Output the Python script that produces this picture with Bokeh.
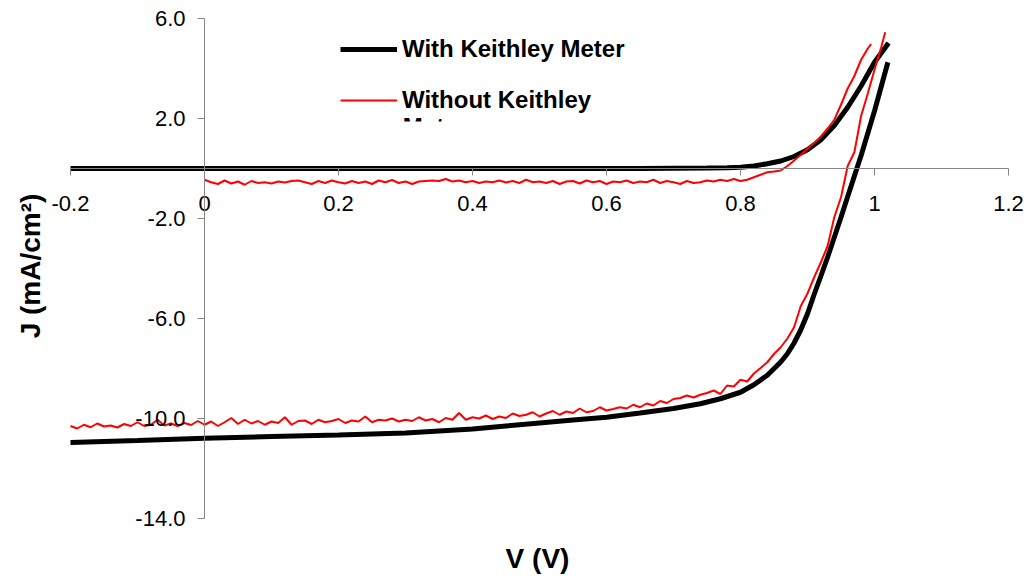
from bokeh.plotting import figure
from bokeh.models import Range1d, FixedTicker, Legend, LegendItem, Label, BoxAnnotation
from bokeh.embed import file_html
from bokeh.resources import INLINE

# ---- axes ----
x_ticks = [-0.2, 0.0, 0.2, 0.4, 0.6, 0.8, 1.0, 1.2]
x_tick_labels = ["-0.2", "0", "0.2", "0.4", "0.6", "0.8", "1", "1.2"]
y_ticks = [-14.0, -10.0, -6.0, -2.0, 2.0, 6.0]
y_tick_labels = ["-14.0", "-10.0", "-6.0", "-2.0", "2.0", "6.0"]

series_names = ["With Keithley Meter", "Without Keithley", "Meter"]

# ---- With Keithley Meter (smooth) : dark and illuminated ----
with_dark_v = [-0.20, 0.00, 0.20, 0.40, 0.50, 0.60, 0.65, 0.70, 0.75, 0.78, 0.80,
               0.82, 0.84, 0.86, 0.88, 0.90, 0.92, 0.94, 0.96, 0.98, 1.00, 1.021]
with_dark_j = [0.00, 0.00, 0.00, 0.00, 0.00, 0.00, 0.00, 0.01, 0.02, 0.03, 0.05,
               0.10, 0.19, 0.30, 0.48, 0.75, 1.15, 1.72, 2.45, 3.30, 4.25, 5.02]

with_light_v = [-0.20, -0.10, 0.00, 0.10, 0.20, 0.30, 0.40, 0.45, 0.50, 0.55, 0.60,
                0.65, 0.70, 0.74, 0.77, 0.80, 0.82, 0.84, 0.86, 0.87, 0.88, 0.89,
                0.90, 0.91, 0.92, 0.93, 0.94, 0.95, 0.96, 0.97, 0.98, 1.00, 1.02]
with_light_j = [-10.96, -10.88, -10.79, -10.72, -10.66, -10.58, -10.42, -10.30, -10.18, -10.06, -9.95,
                -9.78, -9.60, -9.41, -9.21, -8.95, -8.65, -8.27, -7.74, -7.41, -6.98, -6.45,
                -5.81, -5.03, -4.30, -3.55, -2.75, -1.95, -1.12, -0.30, 0.52, 2.30, 4.25]

# ---- Without Keithley Meter (noisy) : dark and illuminated ----
without_dark_v = [0.00, 0.01, 0.02, 0.03, 0.04, 0.05, 0.06, 0.07, 0.08, 0.09,
                  0.10, 0.11, 0.12, 0.13, 0.14, 0.15, 0.16, 0.17, 0.18, 0.19,
                  0.20, 0.21, 0.22, 0.23, 0.24, 0.25, 0.26, 0.27, 0.28, 0.29,
                  0.30, 0.31, 0.32, 0.33, 0.34, 0.35, 0.36, 0.37, 0.38, 0.39,
                  0.40, 0.41, 0.42, 0.43, 0.44, 0.45, 0.46, 0.47, 0.48, 0.49,
                  0.50, 0.51, 0.52, 0.53, 0.54, 0.55, 0.56, 0.57, 0.58, 0.59,
                  0.60, 0.61, 0.62, 0.63, 0.64, 0.65, 0.66, 0.67, 0.68, 0.69,
                  0.70, 0.71, 0.72, 0.73, 0.74, 0.75, 0.76, 0.77, 0.78, 0.79,
                  0.80, 0.81, 0.82, 0.83, 0.84, 0.85, 0.86, 0.87, 0.88, 0.89,
                  0.90, 0.91, 0.92, 0.93, 0.94, 0.95, 0.96, 0.97, 0.98, 0.99, 0.995]
without_dark_j = [-0.45, -0.55, -0.62, -0.48, -0.60, -0.52, -0.65, -0.50, -0.58, -0.55,
                  -0.60, -0.52, -0.56, -0.50, -0.48, -0.55, -0.62, -0.50, -0.58, -0.48,
                  -0.55, -0.60, -0.50, -0.58, -0.52, -0.62, -0.48, -0.55, -0.46, -0.58,
                  -0.52, -0.62, -0.52, -0.50, -0.48, -0.50, -0.42, -0.52, -0.48, -0.55,
                  -0.50, -0.58, -0.52, -0.55, -0.48, -0.56, -0.50, -0.58, -0.45, -0.55,
                  -0.52, -0.58, -0.50, -0.62, -0.52, -0.50, -0.60, -0.48, -0.55, -0.50,
                  -0.62, -0.52, -0.55, -0.48, -0.58, -0.52, -0.55, -0.45, -0.58, -0.50,
                  -0.55, -0.62, -0.50, -0.58, -0.55, -0.48, -0.52, -0.45, -0.50, -0.42,
                  -0.50, -0.45, -0.35, -0.25, -0.15, -0.12, -0.08, 0.10, 0.32, 0.55,
                  0.79, 1.02, 1.28, 1.60, 1.95, 2.55, 3.20, 3.70, 4.35, 4.80, 4.98]

without_light_v = [-0.20, -0.19, -0.18, -0.17, -0.16, -0.15, -0.14, -0.13, -0.12, -0.11,
                   -0.10, -0.09, -0.08, -0.07, -0.06, -0.05, -0.04, -0.03, -0.02, -0.01,
                   0.00, 0.01, 0.02, 0.03, 0.04, 0.05, 0.06, 0.07, 0.08, 0.09,
                   0.10, 0.11, 0.12, 0.13, 0.14, 0.15, 0.16, 0.17, 0.18, 0.19,
                   0.20, 0.21, 0.22, 0.23, 0.24, 0.25, 0.26, 0.27, 0.28, 0.29,
                   0.30, 0.31, 0.32, 0.33, 0.34, 0.35, 0.36, 0.37, 0.38, 0.39,
                   0.40, 0.41, 0.42, 0.43, 0.44, 0.45, 0.46, 0.47, 0.48, 0.49,
                   0.50, 0.51, 0.52, 0.53, 0.54, 0.55, 0.56, 0.57, 0.58, 0.59,
                   0.60, 0.61, 0.62, 0.63, 0.64, 0.65, 0.66, 0.67, 0.68, 0.69,
                   0.70, 0.71, 0.72, 0.73, 0.74, 0.75, 0.76, 0.77, 0.78, 0.79,
                   0.80, 0.81, 0.82, 0.83, 0.84, 0.85, 0.86, 0.87, 0.88, 0.89,
                   0.90, 0.91, 0.92, 0.93, 0.94, 0.95, 0.96, 0.97, 0.98, 0.99,
                   1.00, 1.01, 1.016]
without_light_j = [-10.30, -10.40, -10.25, -10.35, -10.20, -10.32, -10.28, -10.36, -10.22, -10.30,
                   -10.15, -10.30, -10.25, -10.05, -10.28, -10.20, -10.30, -10.18, -10.26, -10.10,
                   -10.25, -10.12, -10.30, -10.15, -9.98, -10.22, -10.05, -10.20, -10.10, -10.25,
                   -10.12, -10.18, -9.95, -10.25, -10.10, -10.08, -10.22, -10.05, -10.15, -10.10,
                   -10.02, -10.18, -10.08, -10.12, -9.92, -10.15, -10.05, -10.08, -10.00, -10.12,
                   -10.05, -10.10, -9.95, -10.08, -10.02, -10.15, -9.98, -10.05, -9.78, -10.05,
                   -9.95, -10.00, -9.88, -10.02, -9.92, -9.98, -9.80, -9.90, -9.85, -9.75,
                   -9.92, -9.80, -9.70, -9.85, -9.72, -9.78, -9.60, -9.75, -9.70, -9.55,
                   -9.68, -9.62, -9.55, -9.60, -9.45, -9.55, -9.40, -9.48, -9.30, -9.38,
                   -9.22, -9.18, -9.08, -9.16, -9.05, -8.98, -8.88, -9.02, -8.68, -8.72,
                   -8.45, -8.52, -8.20, -7.98, -7.75, -7.42, -7.15, -6.80, -6.35, -5.50,
                   -5.00, -4.35, -3.75, -3.10, -1.95, -1.15, 0.10, 0.65, 2.10, 3.00,
                   3.95, 4.85, 5.45]

FONT = "Liberation Sans"
AXIS_GRAY = "#868686"

# pixel layout of the reference: plot-area margins around the tick extent
W, H = 1027, 580
left_px, right_px, top_px, bottom_px = 70, 19, 18, 62
x_scale = (W - left_px - right_px) / (x_ticks[-1] - x_ticks[0])
y_scale = (H - top_px - bottom_px) / (y_ticks[-1] - y_ticks[0])
x_range = Range1d(x_ticks[0] - left_px / x_scale, x_ticks[-1] + right_px / x_scale)
y_range = Range1d(y_ticks[0] - bottom_px / y_scale, y_ticks[-1] + top_px / y_scale)

p = figure(frame_width=W, frame_height=H, x_range=x_range, y_range=y_range,
           output_backend="svg", toolbar_location=None,
           min_border_left=0, min_border_right=0,
           min_border_top=0, min_border_bottom=0)
p.outline_line_color = None
p.xgrid.visible = False
p.ygrid.visible = False
p.background_fill_color = "white"
p.border_fill_color = "white"

for ax in (p.xaxis[0], p.yaxis[0]):
    ax.fixed_location = 0
    ax.axis_line_color = AXIS_GRAY
    ax.axis_line_width = 1
    ax.major_tick_line_color = AXIS_GRAY
    ax.major_tick_out = 7
    ax.major_tick_in = 0
    ax.minor_tick_out = 0
    ax.minor_tick_in = 0
    ax.major_label_text_font = FONT
    ax.major_label_text_font_size = "22px"
    ax.major_label_text_color = "black"

p.xaxis[0].ticker = FixedTicker(ticks=x_ticks)
p.xaxis[0].bounds = (x_ticks[0], x_ticks[-1])
p.xaxis[0].major_label_overrides = {t: l for t, l in zip(x_ticks, x_tick_labels)}
p.xaxis[0].major_label_standoff = 20
p.yaxis[0].ticker = FixedTicker(ticks=y_ticks)
p.yaxis[0].bounds = (y_ticks[0], y_ticks[-1])
p.yaxis[0].major_label_overrides = {t: l for t, l in zip(y_ticks, y_tick_labels)}
p.yaxis[0].major_label_standoff = 12

r_wd = p.line(with_dark_v, with_dark_j, line_color="black", line_width=5)
r_wl = p.line(with_light_v, with_light_j, line_color="black", line_width=5)
r_nd = p.line(without_dark_v, without_dark_j, line_color="#ff0000", line_width=2)
r_nl = p.line(without_light_v, without_light_j, line_color="#ff0000", line_width=2)

legend = Legend(items=[LegendItem(label=series_names[0], renderers=[r_wd]),
                       LegendItem(label=series_names[1], renderers=[r_nd])],
                location=(340, 466), orientation="vertical",
                glyph_width=57, glyph_height=24, label_height=24,
                label_standoff=5, spacing=23, padding=0, margin=0,
                border_line_alpha=0, background_fill_alpha=0,
                label_text_font=FONT, label_text_font_style="bold",
                label_text_font_size="24px", label_text_color="black")
p.add_layout(legend)

# wrapped second line of the legend label, clipped by the legend box
p.add_layout(Label(x=0.296, y=2.22, text=series_names[2], text_font=FONT,
                   text_font_style="bold", text_font_size="24px", text_color="black",
                   text_baseline="top", text_align="left"))
p.add_layout(BoxAnnotation(left=0.28, right=0.46, top=1.88, bottom=1.0,
                           fill_color="white", fill_alpha=1.0, line_alpha=0))

p.add_layout(Label(x=0.497, y=-15.6, text="V (V)", text_font=FONT,
                   text_font_style="bold", text_font_size="28px", text_color="black",
                   text_align="center", text_baseline="middle"))
p.add_layout(Label(x=-0.26, y=-3.9, text="J (mA/cm²)", text_font=FONT,
                   text_font_style="bold", text_font_size="28px", text_color="black",
                   text_align="center", text_baseline="middle", angle=1.5708))

open("out.html", "w").write(file_html(p, INLINE))
